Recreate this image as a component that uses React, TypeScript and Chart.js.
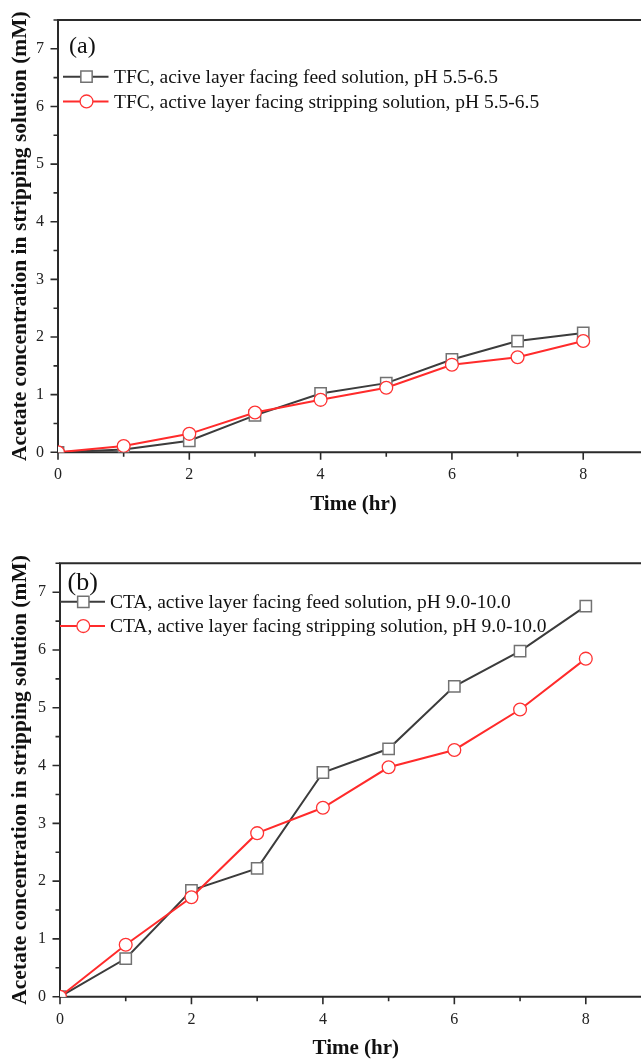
import React, { useEffect, useRef } from 'react';
import { Chart, registerables } from 'chart.js';

Chart.register(...registerables);

// ---- data ----
const hours = [0, 1, 2, 3, 4, 5, 6, 7, 8];
const tfcFeed = [0, 0.05, 0.2, 0.64, 1.02, 1.2, 1.61, 1.93, 2.07];
const tfcStrip = [0, 0.11, 0.32, 0.69, 0.91, 1.12, 1.52, 1.65, 1.93];
const ctaFeed = [0, 0.66, 1.84, 2.22, 3.88, 4.29, 5.37, 5.98, 6.76];
const ctaStrip = [0, 0.9, 1.72, 2.83, 3.27, 3.97, 4.27, 4.97, 5.85];

const xTickValues = [0, 2, 4, 6, 8];
const xTickMarks = [0, 1, 2, 3, 4, 5, 6, 7, 8];
const yTickValues = [0, 1, 2, 3, 4, 5, 6, 7];
const yTickMarks = [0, 0.5, 1, 1.5, 2, 2.5, 3, 3.5, 4, 4.5, 5, 5.5, 6, 6.5, 7, 7.5];

const labelsA = [
  'TFC, acive layer facing feed solution, pH 5.5-6.5',
  'TFC, active layer facing stripping solution, pH 5.5-6.5',
];
const labelsB = [
  'CTA, active layer facing feed solution, pH 9.0-10.0',
  'CTA, active layer facing stripping solution, pH 9.0-10.0',
];
const yTitle = 'Acetate concentration in stripping solution (mM)';
const xTitle = 'Time (hr)';

const SERIF = '"Liberation Serif", "Times New Roman", serif';
const W = 641;
const H = 530;

type Cfg = {
  offsetTop: number;
  panel: string;
  panelSize: number;
  panelX: number;
  panelY: number;
  top: number;
  bottom: number;
  left: number;
  xMax: number;
  feed: number[];
  strip: number[];
  labels: string[];
  lg: { x0: number; x1: number; mx: number; tx: number; y: number; dy: number };
};

const cfgA: Cfg = {
  offsetTop: 0,
  panel: '(a)',
  panelSize: 24,
  panelX: 69,
  panelY: 46.5,
  top: 20,
  bottom: 452.3,
  left: 58,
  xMax: 8.88,
  feed: tfcFeed,
  strip: tfcStrip,
  labels: labelsA,
  lg: { x0: 63, x1: 108.5, mx: 86.5, tx: 114, y: 76.7, dy: 24.7 },
};

const cfgB: Cfg = {
  offsetTop: 530,
  panel: '(b)',
  panelSize: 26,
  panelX: 67.5,
  panelY: 53,
  top: 33.3,
  bottom: 466.7,
  left: 60,
  xMax: 8.84,
  feed: ctaFeed,
  strip: ctaStrip,
  labels: labelsB,
  lg: { x0: 60, x1: 105, mx: 83.3, tx: 110, y: 71.8, dy: 24.3 },
};

function drawMarker(ctx: CanvasRenderingContext2D, style: string, x: number, y: number, r: number) {
  ctx.beginPath();
  if (style === 'rect') {
    const s = Math.SQRT1_2 * r;
    ctx.rect(x - s, y - s, 2 * s, 2 * s);
  } else {
    ctx.arc(x, y, r, 0, Math.PI * 2);
  }
  ctx.fill();
  ctx.stroke();
}

function makeDecor(cfg: Cfg) {
  return {
    id: 'decor',
    beforeDatasetsDraw(chart: any) {
      const ctx: CanvasRenderingContext2D = chart.ctx;
      const a = chart.chartArea;
      const xs = chart.scales.x;
      const ys = chart.scales.y;
      ctx.save();
      ctx.strokeStyle = '#2a2a2a';
      ctx.lineWidth = 2;
      ctx.beginPath();
      ctx.moveTo(a.left, a.top);
      ctx.lineTo(a.right + 2, a.top);
      ctx.moveTo(a.left, a.top - 1);
      ctx.lineTo(a.left, a.bottom + 1);
      ctx.moveTo(a.left - 1, a.bottom);
      ctx.lineTo(a.right + 2, a.bottom);
      ctx.stroke();
      ctx.lineWidth = 1.6;
      ctx.beginPath();
      xTickMarks.forEach((v) => {
        const px = xs.getPixelForValue(v);
        const len = v % 2 === 0 ? 7.5 : 4.5;
        ctx.moveTo(px, a.bottom);
        ctx.lineTo(px, a.bottom + len);
      });
      yTickMarks.forEach((v) => {
        const py = ys.getPixelForValue(v);
        const len = Number.isInteger(v) ? 7.5 : 4.5;
        ctx.moveTo(a.left, py);
        ctx.lineTo(a.left - len, py);
      });
      ctx.stroke();
      ctx.restore();
    },
    afterDraw(chart: any) {
      const ctx: CanvasRenderingContext2D = chart.ctx;
      const a = chart.chartArea;
      const xs = chart.scales.x;
      ctx.save();
      ctx.fillStyle = '#111';
      // y title
      ctx.save();
      ctx.translate(20, (a.top + a.bottom) / 2);
      ctx.rotate(-Math.PI / 2);
      ctx.font = `bold 21.5px ${SERIF}`;
      ctx.textAlign = 'center';
      ctx.textBaseline = 'middle';
      ctx.fillText(yTitle, 0, 0);
      ctx.restore();
      // x title
      ctx.font = `bold 21px ${SERIF}`;
      ctx.textAlign = 'center';
      ctx.textBaseline = 'middle';
      ctx.fillText(xTitle, xs.getPixelForValue(4.5), a.bottom + 52);
      // panel label
      ctx.font = `${cfg.panelSize}px ${SERIF}`;
      ctx.textAlign = 'left';
      ctx.fillText(cfg.panel, cfg.panelX, cfg.panelY);
      // legend
      chart.data.datasets.forEach((ds: any, i: number) => {
        const y = cfg.lg.y + i * cfg.lg.dy;
        ctx.strokeStyle = ds.borderColor;
        ctx.lineWidth = ds.borderWidth;
        ctx.beginPath();
        ctx.moveTo(cfg.lg.x0, y);
        ctx.lineTo(cfg.lg.x1, y);
        ctx.stroke();
        ctx.fillStyle = ds.pointBackgroundColor;
        ctx.strokeStyle = ds.pointBorderColor;
        ctx.lineWidth = ds.pointBorderWidth;
        drawMarker(ctx, ds.pointStyle, cfg.lg.mx, y, ds.pointRadius);
        ctx.fillStyle = '#111';
        ctx.font = `19.5px ${SERIF}`;
        ctx.textAlign = 'left';
        ctx.textBaseline = 'middle';
        ctx.fillText(ds.label, cfg.lg.tx, y + 1);
      });
      ctx.restore();
    },
  };
}

function Panel({ cfg }: { cfg: Cfg }) {
  const ref = useRef<HTMLCanvasElement | null>(null);
  useEffect(() => {
    const canvas = ref.current;
    if (!canvas) return;
    const tickFont = { family: SERIF, size: 16 };
    const chart = new Chart(canvas, {
      type: 'line',
      data: {
        datasets: [
          {
            label: cfg.labels[0],
            data: hours.map((h, i) => ({ x: h, y: cfg.feed[i] })),
            borderColor: '#3c3c3c',
            borderWidth: 2,
            pointStyle: 'rect',
            pointRadius: 8,
            pointBorderColor: '#727272',
            pointBackgroundColor: '#ffffff',
            pointBorderWidth: 1.5,
            tension: 0,
            order: 1,
          },
          {
            label: cfg.labels[1],
            data: hours.map((h, i) => ({ x: h, y: cfg.strip[i] })),
            borderColor: '#ff2b2b',
            borderWidth: 2,
            pointStyle: 'circle',
            pointRadius: 6.4,
            pointBorderColor: '#ff3333',
            pointBackgroundColor: '#ffffff',
            pointBorderWidth: 1.3,
            tension: 0,
            order: 0,
          },
        ],
      },
      options: {
        responsive: false,
        animation: false,
        devicePixelRatio: 1,
        layout: { autoPadding: false, padding: { top: cfg.top, right: 0, left: 0, bottom: 0 } },
        plugins: { legend: { display: false }, tooltip: { enabled: false } },
        scales: {
          x: {
            type: 'linear',
            min: 0,
            max: cfg.xMax,
            afterBuildTicks: (s: any) => {
              s.ticks = xTickValues.map((v) => ({ value: v }));
            },
            afterFit: (s: any) => {
              s.height = H - cfg.bottom;
            },
            grid: { display: false, drawTicks: true, tickLength: 8 },
            border: { display: false },
            ticks: { color: '#222', font: tickFont, padding: 5, maxRotation: 0, autoSkip: false },
          },
          y: {
            type: 'linear',
            min: 0,
            max: 7.5,
            afterBuildTicks: (s: any) => {
              s.ticks = yTickValues.map((v) => ({ value: v }));
            },
            afterFit: (s: any) => {
              s.width = cfg.left;
            },
            grid: { display: false, drawTicks: true, tickLength: 8 },
            border: { display: false },
            ticks: { color: '#222', font: tickFont, padding: 6, autoSkip: false },
          },
        },
      } as any,
      plugins: [makeDecor(cfg)],
    });
    return () => chart.destroy();
  }, [cfg]);
  return (
    <canvas
      ref={ref}
      width={W}
      height={H}
      style={{ position: 'absolute', left: 0, top: cfg.offsetTop, width: W, height: H, display: 'block' }}
    />
  );
}

export default function App() {
  return (
    <div
      style={{
        position: 'absolute',
        left: 0,
        top: 0,
        width: W,
        height: 1060,
        overflow: 'hidden',
        background: '#fff',
      }}
    >
      <Panel cfg={cfgA} />
      <Panel cfg={cfgB} />
    </div>
  );
}
